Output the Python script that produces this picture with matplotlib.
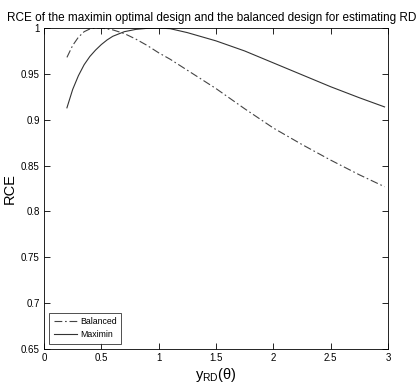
import matplotlib
matplotlib.use("Agg")
import matplotlib.pyplot as plt

plt.rcParams['font.family'] = ['Liberation Sans', 'DejaVu Sans']
plt.rcParams['mathtext.fontset'] = 'custom'
plt.rcParams['mathtext.rm'] = 'Liberation Sans'
plt.rcParams['mathtext.it'] = 'Liberation Sans:italic'

# values
x_vals = [0.2, 0.25, 0.3, 0.35, 0.4, 0.45, 0.5, 0.55, 0.6, 0.7, 0.8, 0.9, 1.0,
          1.1, 1.25, 1.5, 1.75, 2.0, 2.25, 2.5, 2.75, 2.97]
balanced = [0.968, 0.981, 0.990, 0.996, 0.999, 1.0, 1.0, 0.999, 0.998, 0.994, 0.988, 0.981, 0.973,
            0.966, 0.954, 0.934, 0.912, 0.891, 0.873, 0.856, 0.840, 0.827]
maximin = [0.913, 0.933, 0.948, 0.960, 0.969, 0.976, 0.982, 0.987, 0.991, 0.996, 0.9985, 0.9997, 1.0,
           0.9993, 0.995, 0.986, 0.975, 0.962, 0.949, 0.936, 0.924, 0.914]

x_ticks = [0, 0.5, 1, 1.5, 2, 2.5, 3]
y_ticks = [0.65, 0.7, 0.75, 0.8, 0.85, 0.9, 0.95, 1]
y_labels = ['0.65', '0.7', '0.75', '0.8', '0.85', '0.9', '0.95', '1']

fig = plt.figure(figsize=(4.19, 3.84), dpi=100, facecolor='white')
ax = fig.add_axes([0.105, 0.091, 0.821, 0.836])

ax.plot(x_vals, balanced, color='#444444', linestyle=(0, (7, 2.5, 1.5, 2.5)), linewidth=0.8, label='Balanced')
ax.plot(x_vals, maximin, color='#333333', linestyle='-', linewidth=0.8, label='Maximin')

ax.set_xlim(0, 3)
ax.set_ylim(0.65, 1)
ax.set_xticks(x_ticks)
ax.set_xticklabels([f'{t:g}' for t in x_ticks])
ax.set_yticks(y_ticks)
ax.set_yticklabels(y_labels)
ax.tick_params(direction='in', length=4, width=0.6, labelsize=7, top=True, right=True, pad=3)
for s in ax.spines.values():
    s.set_linewidth(0.6)

fig.text(0.506, 0.945, 'RCE of the maximin optimal design and the balanced design for estimating RD',
         ha='center', va='baseline', fontsize=8.45)
ax.set_ylabel('RCE', fontsize=10.5, labelpad=3)
ax.set_xlabel(r'$\mathrm{y}_{\mathrm{RD}}$(θ)', fontsize=10.5, labelpad=2)

leg = ax.legend(loc='lower left', fontsize=6.3, frameon=True, fancybox=False,
                edgecolor='black', handlelength=2.7, borderpad=0.5, labelspacing=0.5,
                handletextpad=0.3, borderaxespad=0.6)
leg.get_frame().set_linewidth(0.6)

fig.savefig('out.png', dpi=100, facecolor='white')
